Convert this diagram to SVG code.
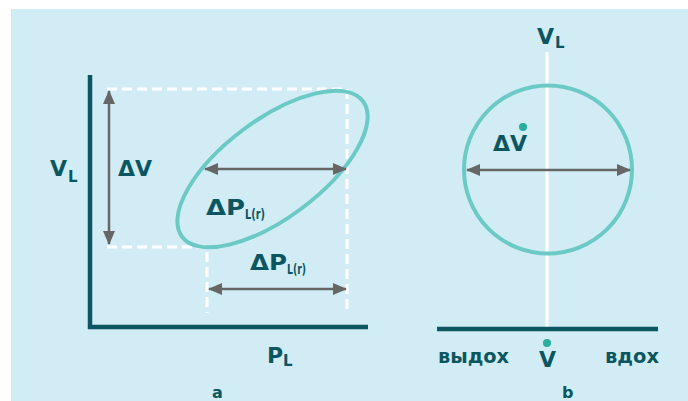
<svg xmlns="http://www.w3.org/2000/svg" width="688" height="401" viewBox="0 0 688 401">
<defs>
<marker id="ah" markerUnits="userSpaceOnUse" markerWidth="14" markerHeight="12" refX="13" refY="6" orient="auto-start-reverse">
<path d="M0,0 L14,6 L0,12 z" fill="#666666"/>
</marker>
<style>
.t{font-family:"DejaVu Sans","Liberation Sans",sans-serif;font-weight:bold;fill:#0b5660}
.m{font-size:22px}
.s{font-size:15px}
.sr{font-size:14px}
.w{font-size:20px}
.ax{stroke:#0b5660;stroke-width:4.5;fill:none}
.dash{stroke:#ffffff;stroke-width:3;stroke-dasharray:10 5;fill:none}
.arr{stroke:#666666;stroke-width:2.5;fill:none;marker-start:url(#ah);marker-end:url(#ah)}
.loop{stroke:#6ccac6;stroke-width:4;fill:none}
.dot{fill:#27ae9c}
</style>
</defs>
<rect x="11" y="9" width="677" height="392" fill="#d2ecf6"/>

<g id="plot-a">
<g id="axes-a">
<path class="ax" d="M90,75 V329 M88,327 H368"/>
</g>
<g id="dashed-guides">
<path class="dash" d="M107,89 H347 V313 M107,247 H207 V313"/>
</g>
<g id="loop-a">
<ellipse class="loop" cx="272.5" cy="169" rx="113" ry="49" transform="rotate(-36.8 272.5 169)"/>
</g>
<g id="connectors-a">
<line class="arr" x1="109" y1="91" x2="109" y2="244"/>
<line class="arr" x1="205" y1="169" x2="346" y2="169"/>
<line class="arr" x1="209" y1="289" x2="346" y2="289"/>
</g>
<g id="labels-a">
<text class="t m" x="50" y="176">V</text><text class="t s" x="68" y="182">L</text>
<text class="t m" x="118" y="176">ΔV</text>
<text class="t m" x="206" y="215" textLength="39" lengthAdjust="spacingAndGlyphs">ΔP</text><text class="t sr" x="245" y="219" textLength="20" lengthAdjust="spacingAndGlyphs">L(r)</text>
<text class="t m" x="250" y="270" textLength="37" lengthAdjust="spacingAndGlyphs">ΔP</text><text class="t sr" x="287" y="274" textLength="19" lengthAdjust="spacingAndGlyphs">L(r)</text>
<text class="t m" x="267" y="363">P</text><text class="t s" x="283" y="366">L</text>
<text class="t" x="212" y="398" font-size="16">a</text>
</g>
</g>

<g id="plot-b">
<g id="axes-b">
<line x1="547" y1="52" x2="547" y2="327" stroke="#ffffff" stroke-width="3"/>
<line class="ax" x1="437" y1="329" x2="658" y2="329"/>
</g>
<g id="loop-b">
<circle class="loop" cx="548" cy="169.5" r="84"/>
</g>
<g id="connectors-b">
<line class="arr" x1="467" y1="170" x2="630" y2="170"/>
</g>
<g id="labels-b">
<text class="t m" x="537" y="44">V</text><text class="t s" x="555" y="48">L</text>
<text class="t m" x="493" y="151">ΔV</text><circle class="dot" cx="523" cy="127" r="4"/>
<text class="t w" x="438" y="363" textLength="71" lengthAdjust="spacingAndGlyphs">выдох</text>
<text class="t m" x="539" y="367">V</text><circle class="dot" cx="547" cy="343" r="4"/>
<text class="t w" x="605" y="363" textLength="54" lengthAdjust="spacingAndGlyphs">вдох</text>
<text class="t" x="562" y="398" font-size="16">b</text>
</g>
</g>
</svg>
